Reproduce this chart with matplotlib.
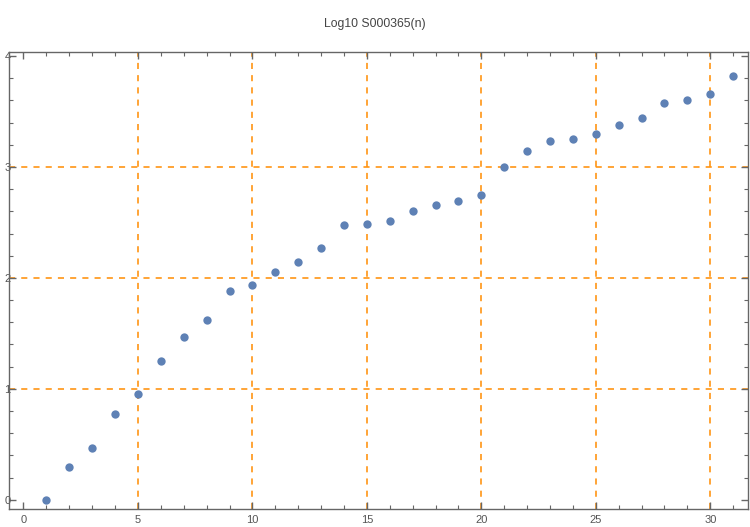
import matplotlib
matplotlib.use("Agg")
import matplotlib.pyplot as plt
from matplotlib.ticker import MultipleLocator

# valeurs
n_values = list(range(1, 32))
log_values = [0.0, 0.30, 0.47, 0.77, 0.95, 1.25, 1.47, 1.62, 1.88, 1.94,
              2.05, 2.14, 2.27, 2.48, 2.49, 2.51, 2.60, 2.66, 2.69, 2.75,
              3.00, 3.14, 3.23, 3.25, 3.30, 3.38, 3.44, 3.58, 3.60, 3.66,
              3.82]
x_grid = [5, 10, 15, 20, 25, 30]
y_grid = [1, 2, 3]
title = "Log10 S000365(n)"

plt.rcParams["font.family"] = ["Liberation Sans", "DejaVu Sans"]

fig = plt.figure(figsize=(7.5, 5.27), dpi=100)
ax = fig.add_axes([0.0124, 0.0342, 0.985, 0.8666])

grid_style = dict(color="#FF8C00", lw=1.1, ls=(0, (4, 4)), zorder=1)
for gx in x_grid:
    ax.axvline(gx, **grid_style)
for gy in y_grid:
    ax.axhline(gy, **grid_style)

ax.scatter(n_values, log_values, s=36, color="#5E81B5", zorder=3, linewidths=0)

ax.set_xlim(-0.62, 31.65)
ax.set_ylim(-0.082, 4.033)
ax.xaxis.set_major_locator(MultipleLocator(5))
ax.xaxis.set_minor_locator(MultipleLocator(1))
ax.yaxis.set_major_locator(MultipleLocator(1))
ax.yaxis.set_minor_locator(MultipleLocator(0.2))

for side in ax.spines.values():
    side.set_color("#666666")
    side.set_linewidth(1.0)
ax.tick_params(which="both", direction="in", top=True, right=True,
               color="#666666", labelcolor="#555555", labelsize=8)
ax.tick_params(which="major", length=5, width=1.0)
ax.tick_params(which="minor", length=3, width=0.8)
ax.tick_params(axis="y", pad=-1)
ax.tick_params(axis="x", pad=4)

fig.text(0.5, 1 - 24 / 527, title, ha="center", va="center",
         fontsize=8.8, color="#444444")
fig.savefig("out.png", dpi=100)
